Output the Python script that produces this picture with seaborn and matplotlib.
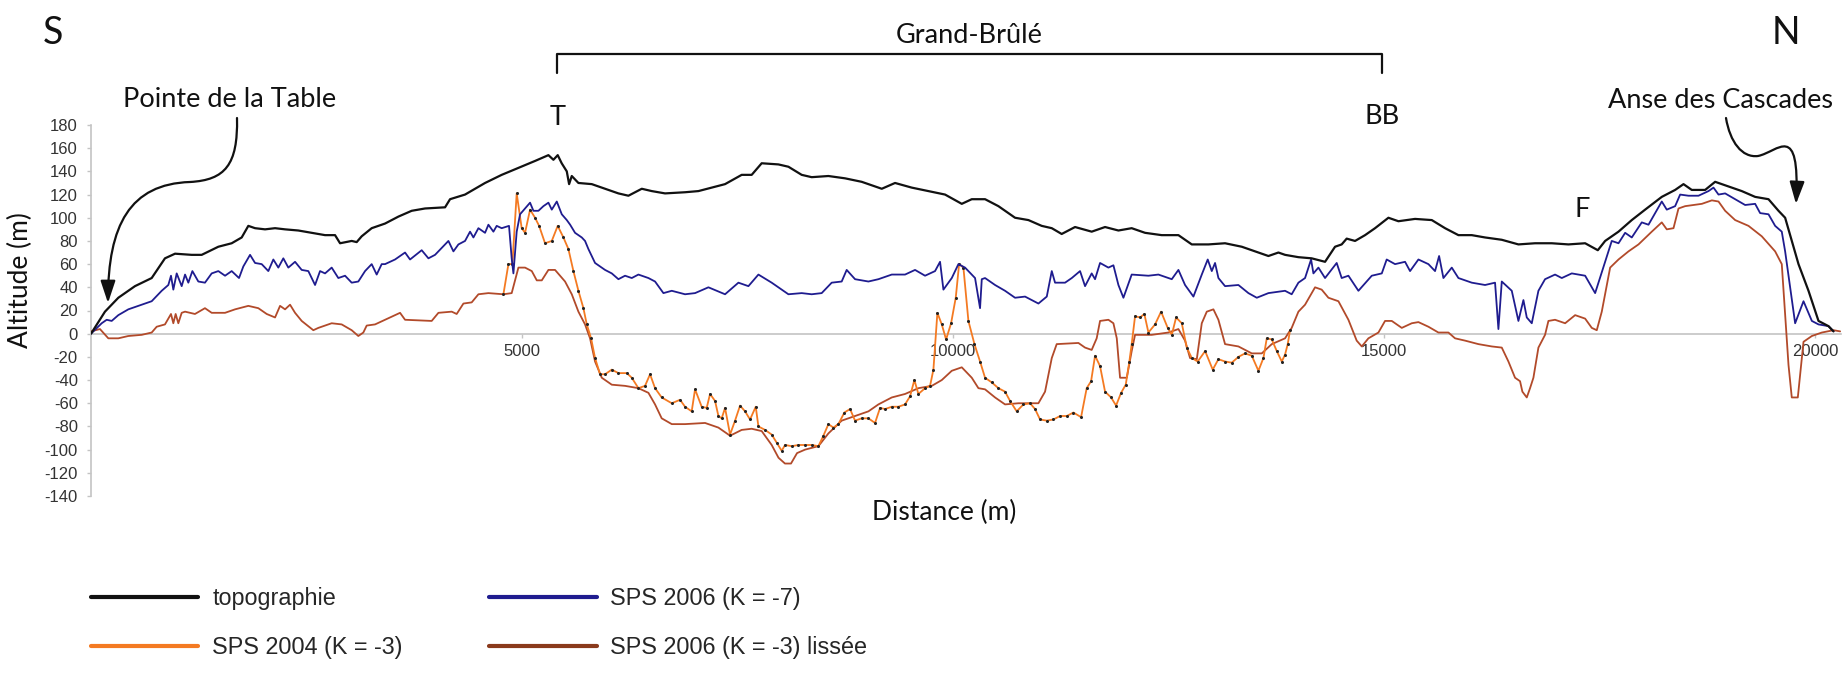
import matplotlib
matplotlib.use("Agg")
import matplotlib.pyplot as plt
from matplotlib.path import Path
from matplotlib.patches import FancyArrowPatch
from matplotlib.lines import Line2D
import seaborn as sns

# ---------------------------------------------------------------------------
# Profile data: distance along the coast (m) and altitude / SP signal (m)
# ---------------------------------------------------------------------------
topo_x = [0, 162, 317, 510, 704, 858, 975, 1168, 1284, 1477,
          1632, 1748, 1825, 1903, 2019, 2135, 2251, 2405, 2560, 2715,
          2831, 2889, 3024, 3082, 3140, 3256, 3411, 3566, 3720, 3875,
          4107, 4165, 4339, 4571, 4764, 4958, 5151, 5306, 5364, 5414,
          5460, 5519, 5546, 5577, 5654, 5809, 5963, 6118, 6234, 6389,
          6505, 6659, 6891, 7046, 7200, 7355, 7548, 7664, 7780, 7974,
          8090, 8244, 8360, 8554, 8747, 8940, 9173, 9327, 9520, 9714,
          9907, 10101, 10217, 10371, 10526, 10719, 10874, 11028, 11145, 11260,
          11415, 11608, 11763, 11918, 12072, 12227, 12420, 12614, 12769, 12962,
          13155, 13349, 13503, 13658, 13774, 13851, 14006, 14160, 14315, 14431,
          14508, 14566, 14663, 14779, 14895, 15050, 15166, 15359, 15553, 15707,
          15862, 16017, 16171, 16365, 16558, 16751, 16945, 17138, 17332, 17479,
          17564, 17719, 17873, 18028, 18221, 18376, 18473, 18569, 18724, 18840,
          18995, 19149, 19304, 19459, 19575, 19652, 19729, 19807, 19923, 20039,
          20155, 20213]
topo_y = [0, 19, 31, 41, 48, 65, 69, 68, 68, 75,
          78, 83, 93, 91, 90, 91, 90, 89, 87, 85,
          85, 78, 80, 79, 84, 91, 95, 101, 106, 108,
          109, 116, 120, 130, 137, 143, 149, 154, 150, 154,
          147, 140, 129, 136, 130, 129, 125, 121, 119, 125,
          123, 121, 122, 123, 126, 129, 137, 137, 147, 146,
          144, 137, 135, 136, 134, 131, 125, 130, 126, 123,
          120, 112, 116, 116, 110, 100, 98, 93, 91, 86,
          92, 88, 92, 89, 91, 87, 85, 85, 77, 77,
          78, 75, 71, 67, 70, 68, 66, 65, 62, 75,
          77, 82, 80, 85, 91, 100, 97, 99, 98, 91,
          85, 85, 83, 81, 77, 78, 78, 77, 78, 72,
          80, 88, 98, 107, 118, 124, 129, 124, 124, 131,
          127, 123, 118, 116, 106, 100, 80, 60, 37, 11,
          6.5, 2]

sps06k7_x = [0, 124, 182, 240, 317, 433, 549, 704, 820, 897,
             928, 955, 994, 1052, 1091, 1129, 1176, 1245, 1322, 1400,
             1477, 1555, 1632, 1717, 1767, 1845, 1903, 1980, 2057, 2115,
             2173, 2231, 2289, 2367, 2444, 2521, 2599, 2657, 2715, 2792,
             2869, 2947, 3024, 3101, 3179, 3256, 3314, 3372, 3411, 3527,
             3643, 3701, 3836, 3914, 3991, 4068, 4146, 4204, 4262, 4339,
             4397, 4436, 4494, 4571, 4610, 4668, 4706, 4764, 4849, 4880,
             4900, 4938, 4977, 5035, 5093, 5132, 5190, 5248, 5306, 5345,
             5403, 5461, 5519, 5558, 5615, 5693, 5731, 5770, 5847, 5963,
             6041, 6118, 6195, 6273, 6350, 6466, 6543, 6640, 6737, 6891,
             7007, 7162, 7355, 7510, 7626, 7742, 7896, 8090, 8244, 8360,
             8476, 8592, 8708, 8766, 8863, 9018, 9134, 9289, 9443, 9559,
             9675, 9791, 9849, 9888, 9985, 10062, 10139, 10255, 10313, 10333,
             10371, 10487, 10603, 10719, 10835, 10990, 11087, 11145, 11183, 11299,
             11377, 11473, 11531, 11608, 11647, 11705, 11802, 11860, 11918, 11976,
             12072, 12266, 12382, 12537, 12614, 12691, 12788, 12885, 12954, 13001,
             13039, 13078, 13155, 13310, 13426, 13523, 13658, 13851, 13928, 14006,
             14083, 14153, 14180, 14238, 14315, 14450, 14508, 14586, 14702, 14857,
             14973, 15030, 15127, 15243, 15301, 15398, 15514, 15591, 15638, 15688,
             15785, 15862, 16017, 16171, 16287, 16326, 16365, 16481, 16558, 16616,
             16655, 16713, 16790, 16867, 16983, 17061, 17177, 17332, 17448, 17564,
             17641, 17719, 17796, 17873, 17989, 18067, 18221, 18279, 18376, 18434,
             18531, 18647, 18763, 18821, 18879, 18956, 19072, 19188, 19304, 19362,
             19459, 19536, 19613, 19652, 19710, 19768, 19865, 19962, 20039, 20155,
             20213]
sps06k7_y = [0, 9, 12, 11, 16, 21, 24, 28, 37, 42,
             50, 38, 52, 41, 51, 44, 54, 45, 44, 52,
             54, 50, 54, 48, 58, 68, 61, 60, 54, 64,
             57, 65, 57, 62, 55, 54, 42, 54, 52, 57,
             48, 50, 44, 45, 54, 60, 51, 60, 60, 64,
             70, 64, 72, 65, 68, 74, 80, 71, 77, 80,
             88, 83, 91, 87, 94, 88, 93, 91, 93, 65,
             52, 88, 103, 108, 113, 106, 106, 110, 113, 107,
             114, 103, 98, 94, 87, 83, 80, 73, 61, 55,
             52, 47, 50, 48, 51, 48, 45, 35, 37, 34,
             35, 40, 34, 44, 41, 51, 44, 34, 35, 34,
             35, 44, 45, 55, 47, 45, 47, 51, 51, 55,
             50, 54, 62, 38, 48, 60, 57, 48, 22, 47,
             48, 42, 37, 31, 32, 26, 32, 54, 44, 44,
             48, 54, 41, 52, 47, 61, 57, 59, 42, 31,
             51, 50, 51, 47, 55, 42, 32, 51, 64, 54,
             61, 48, 41, 42, 35, 31, 35, 37, 34, 44,
             48, 64, 52, 57, 48, 61, 48, 50, 37, 50,
             52, 64, 60, 62, 54, 64, 60, 54, 67, 48,
             57, 48, 44, 42, 44, 4, 45, 37, 11, 29,
             14, 9, 37, 47, 51, 48, 52, 50, 35, 62,
             80, 78, 87, 83, 96, 94, 114, 107, 110, 120,
             119, 119, 123, 126, 120, 121, 116, 111, 112, 104,
             103, 93, 88, 71, 40, 9, 28, 11, 8, 6.5,
             2]

sps04k3_x = [4784, 4842, 4888, 4938, 4996, 5035, 5093, 5151, 5198, 5267,
             5345, 5414, 5480, 5538, 5596, 5654, 5712, 5751, 5801, 5847,
             5905, 5963, 6041, 6118, 6215, 6273, 6350, 6427, 6485, 6543,
             6620, 6737, 6833, 6891, 6968, 7007, 7084, 7142, 7181, 7239,
             7278, 7316, 7355, 7413, 7471, 7529, 7587, 7645, 7711, 7742,
             7819, 7896, 7954, 8012, 8051, 8128, 8206, 8283, 8360, 8438,
             8496, 8554, 8612, 8670, 8739, 8805, 8863, 8940, 9018, 9095,
             9153, 9211, 9289, 9366, 9443, 9501, 9551, 9598, 9675, 9733,
             9772, 9818, 9869, 9919, 9977, 10031, 10070, 10120, 10178, 10248,
             10313, 10371, 10448, 10526, 10603, 10661, 10738, 10816, 10893, 10951,
             11009, 11087, 11164, 11241, 11319, 11396, 11485, 11550, 11601, 11647,
             11705, 11763, 11833, 11891, 11949, 12003, 12045, 12072, 12111, 12169,
             12219, 12266, 12343, 12413, 12490, 12537, 12587, 12653, 12711, 12769,
             12838, 12924, 13012, 13078, 13155, 13233, 13310, 13387, 13465, 13542,
             13600, 13639, 13697, 13755, 13813, 13851, 13882, 13909]
sps04k3_y = [34, 60, 60, 121, 91, 87, 107, 100, 93, 78,
             80, 93, 83, 73, 54, 37, 22, 8, -4, -21,
             -35, -35, -31, -34, -34, -38, -47, -45, -35, -47,
             -55, -60, -57, -63, -67, -48, -63, -64, -52, -58,
             -71, -73, -64, -87, -75, -62, -67, -74, -63, -80,
             -83, -87, -94, -101, -96, -97, -96, -96, -96, -97,
             -88, -78, -81, -78, -68, -65, -75, -73, -73, -77,
             -64, -65, -63, -63, -61, -54, -40, -52, -47, -45,
             -31, 18, 8, -5, 9, 31, 60, 57, 11, -9,
             -24, -38, -42, -47, -50, -58, -67, -61, -60, -65,
             -74, -75, -74, -71, -71, -68, -72, -47, -41, -19,
             -28, -50, -55, -62, -51, -44, -24, -9, 15, 14,
             17, 1, 8, 19, 5, -1, 14, 9, -12, -21,
             -24, -15, -31, -22, -24, -25, -20, -17, -19, -32,
             -21, -4, -5, -15, -24, -18, -9, 3]

sps06k3_x = [0, 104, 201, 317, 433, 588, 704, 762, 858, 928,
             955, 982, 1013, 1052, 1091, 1206, 1322, 1400, 1555, 1671,
             1825, 1941, 2038, 2135, 2193, 2251, 2309, 2367, 2444, 2579,
             2637, 2792, 2908, 3024, 3101, 3159, 3198, 3295, 3411, 3585,
             3643, 3952, 4030, 4184, 4242, 4320, 4416, 4494, 4610, 4784,
             4880, 4958, 5035, 5113, 5171, 5229, 5306, 5383, 5499, 5577,
             5654, 5731, 5789, 5847, 5925, 6041, 6195, 6350, 6466, 6543,
             6620, 6737, 6891, 7123, 7278, 7413, 7548, 7664, 7780, 7896,
             7975, 8050, 8120, 8190, 8283, 8438, 8554, 8708, 8863, 9018,
             9134, 9289, 9443, 9598, 9753, 9869, 9985, 10101, 10217, 10294,
             10371, 10487, 10603, 10758, 10990, 11067, 11145, 11202, 11454, 11531,
             11608, 11666, 11705, 11802, 11860, 11899, 11937, 12015, 12072, 12111,
             12304, 12498, 12614, 12691, 12749, 12827, 12885, 12943, 13020, 13078,
             13155, 13310, 13465, 13581, 13697, 13851, 13928, 14006, 14083, 14199,
             14276, 14354, 14470, 14586, 14682, 14741, 14818, 14934, 15011, 15089,
             15205, 15321, 15398, 15514, 15630, 15746, 15823, 15940, 16094, 16249,
             16365, 16442, 16519, 16577, 16604, 16655, 16693, 16732, 16790, 16867,
             16906, 16983, 17100, 17216, 17332, 17409, 17467, 17525, 17622, 17719,
             17835, 17951, 18105, 18221, 18279, 18357, 18415, 18492, 18686, 18802,
             18879, 18956, 19072, 19227, 19381, 19536, 19613, 19652, 19691, 19729,
             19799, 19838, 19865, 19962, 20078, 20213, 20290]
sps06k3_y = [2, 4, -4, -4, -2, -1, 1, 6, 8, 17,
             9, 17, 9, 18, 19, 17, 22, 18, 18, 21,
             24, 22, 17, 14, 24, 21, 25, 18, 11, 3,
             5, 9, 8, 3, -2, 1, 7, 8, 12, 18,
             12, 11, 18, 19, 17, 26, 27, 34, 35, 34,
             35, 57, 57, 54, 46, 46, 55, 55, 45, 34,
             19, 8, -4, -24, -38, -44, -45, -47, -51, -61,
             -73, -78, -78, -77, -81, -88, -83, -82, -84, -96,
             -107, -112, -112, -103, -100, -97, -86, -75, -71, -67,
             -61, -55, -52, -47, -45, -40, -32, -29, -38, -47,
             -48, -55, -61, -60, -60, -50, -21, -9, -8, -12,
             -14, -4, 11, 12, 9, -4, -38, -38, -15, -1,
             -1, 1, 4, -6, -21, -22, 9, 19, 21, 12,
             -9, -11, -17, -17, -9, -4, 5, 19, 25, 40,
             38, 31, 28, 12, -6, -11, -4, 1, 11, 11,
             5, 9, 10, 6, 1, 1, -4, -6, -9, -11,
             -12, -24, -38, -41, -50, -55, -47, -38, -12, -1,
             11, 12, 9, 16, 13, 5, 3, 19, 57, 64,
             71, 77, 88, 96, 90, 91, 108, 110, 112, 115,
             114, 106, 98, 93, 84, 71, 60, 17, -27, -55,
             -55, -27, -7, -2, 1, 3, 2]

legend_labels = ["topographie", "SPS 2004 (K = -3)",
                 "SPS 2006 (K = -7)", "SPS 2006 (K = -3) lissée"]
y_ticks = list(range(-140, 181, 20))
x_ticks = [5000, 10000, 15000, 20000]

# ---------------------------------------------------------------------------
# Styling
# ---------------------------------------------------------------------------
sns.set_theme(style="white")
plt.rcParams["font.family"] = ["Liberation Sans", "DejaVu Sans"]
plt.rcParams["axes.unicode_minus"] = False

C_TOPO = "#111111"
C_K7 = "#1f1c8f"
C_2004 = "#f47a22"
C_LISSE = "#b24a2a"
C_AXIS = "#c4c4c4"
C_TICK = "#333333"
TITLE_FONT = ["Lato", "DejaVu Sans"]

W, H = 1843, 675
fig = plt.figure(figsize=(W / 100, H / 100), dpi=100)
ax = fig.add_axes([91 / W, 1 - 496 / H, 1750 / W, 371 / H])


def fx(px):
    return px / W


def fy(py):
    return 1 - py / H


# ---------------------------------------------------------------------------
# Curves
# ---------------------------------------------------------------------------
sns.lineplot(x=sps06k3_x, y=sps06k3_y, ax=ax, color=C_LISSE, lw=1.3,
             sort=False, estimator=None, zorder=3)
sns.lineplot(x=sps04k3_x, y=sps04k3_y, ax=ax, color=C_2004, lw=1.3,
             sort=False, estimator=None, marker="o", markersize=2.2,
             markerfacecolor="#222222", markeredgecolor="#222222",
             markeredgewidth=0, zorder=4)
sns.lineplot(x=sps06k7_x, y=sps06k7_y, ax=ax, color=C_K7, lw=1.3,
             sort=False, estimator=None, zorder=5)
sns.lineplot(x=topo_x, y=topo_y, ax=ax, color=C_TOPO, lw=1.6,
             sort=False, estimator=None, zorder=6)

# ---------------------------------------------------------------------------
# Axes
# ---------------------------------------------------------------------------
ax.set_xlim(0, 20300)
ax.set_ylim(-140, 180)
ax.set_yticks(y_ticks)
ax.set_xticks(x_ticks)
ax.set_xticklabels([str(v) for v in x_ticks])
for side in ("top", "right"):
    ax.spines[side].set_visible(False)
ax.spines["left"].set_color(C_AXIS)
ax.spines["bottom"].set_color(C_AXIS)
ax.spines["left"].set_linewidth(1.2)
ax.spines["bottom"].set_linewidth(1.2)
ax.spines["bottom"].set_position(("data", 0))
ax.spines["bottom"].set_zorder(1)
ax.spines["left"].set_zorder(1)
ax.tick_params(axis="y", direction="out", length=3, width=1, color=C_AXIS,
               labelsize=12, labelcolor=C_TICK, pad=6.5, left=True)
ax.tick_params(axis="x", direction="out", length=3, width=1, color=C_AXIS,
               labelsize=12, labelcolor=C_TICK, pad=4.5, bottom=True)
ax.grid(False)

ax.set_ylabel("Altitude (m)", fontsize=19, family=TITLE_FONT, color="#111111")
ax.yaxis.set_label_coords((33 - 91) / 1750, (496 - 280) / 371)
ax.set_xlabel("Distance (m)", fontsize=19, family=TITLE_FONT, color="#111111")
ax.xaxis.set_label_coords((944 - 91) / 1750, (496 - 500) / 371)

# ---------------------------------------------------------------------------
# Annotations
# ---------------------------------------------------------------------------
big = dict(fontsize=27, family=TITLE_FONT, color="#111111")
mid = dict(fontsize=19.5, family=TITLE_FONT, color="#111111")

fig.text(fx(53), fy(33), "S", ha="center", va="center", **big)
fig.text(fx(1786), fy(33), "N", ha="center", va="center", **big)
fig.text(fx(969), fy(43), "Grand-Brûlé", ha="center", va="baseline", **mid)
fig.text(fx(230), fy(107), "Pointe de la Table", ha="center", va="baseline", **mid)
fig.text(fx(1721), fy(108), "Anse des Cascades", ha="center", va="baseline", **mid)
fig.text(fx(558), fy(125), "T", ha="center", va="baseline", **mid)
fig.text(fx(1382), fy(124), "BB", ha="center", va="baseline", **mid)
fig.text(fx(1582), fy(217), "F", ha="center", va="baseline", **mid)

# bracket spanning the Grand-Brûlé section
fig.add_artist(Line2D([fx(557), fx(557), fx(1382), fx(1382)],
                      [fy(73), fy(54), fy(54), fy(73)],
                      color="#111111", lw=1.6, transform=fig.transFigure))

# curved pointer arrows towards both ends of the profile
def curved_arrow(pts):
    verts = [(fx(x), fy(y)) for x, y in pts]
    codes = [Path.MOVETO] + [Path.CURVE4] * (len(verts) - 1)
    arr = FancyArrowPatch(path=Path(verts, codes),
                          arrowstyle="-|>,head_length=1.35,head_width=0.45",
                          mutation_scale=10, lw=1.6, color="#111111",
                          transform=fig.transFigure)
    fig.add_artist(arr)


curved_arrow([(237, 118), (238, 165), (225, 180), (190, 182),
              (130, 184), (108, 225), (108, 303)])
curved_arrow([(1726, 118), (1730, 142), (1742, 158), (1758, 156),
              (1778, 152), (1800, 120), (1796, 204)])

# ---------------------------------------------------------------------------
# Legend
# ---------------------------------------------------------------------------
handles = [Line2D([], [], color=C_TOPO, lw=3),
           Line2D([], [], color=C_2004, lw=3),
           Line2D([], [], color=C_K7, lw=3),
           Line2D([], [], color="#8a3a1c", lw=3)]
fig.legend(handles, legend_labels, ncol=2, loc="upper left",
           bbox_to_anchor=(fx(91), fy(587)), frameon=False, fontsize=16.8,
           handlelength=4.6, handletextpad=0.6, columnspacing=3.7,
           labelspacing=1.1, borderpad=0, borderaxespad=0)

fig.savefig("out.png", dpi=100)
